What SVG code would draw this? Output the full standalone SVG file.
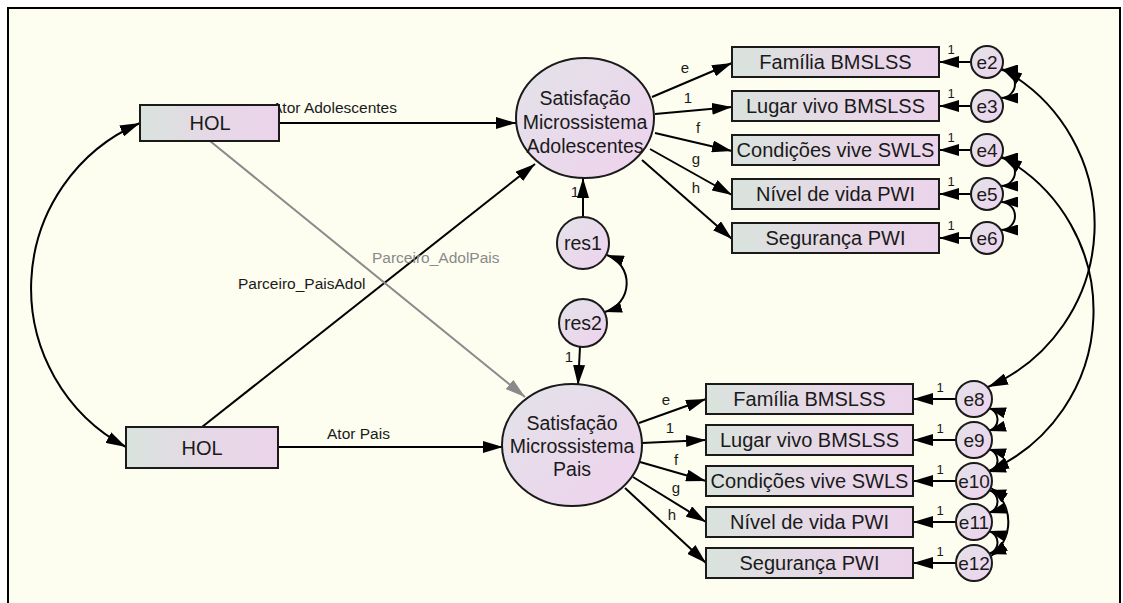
<svg xmlns="http://www.w3.org/2000/svg" width="1123" height="603" viewBox="0 0 1123 603">
  <defs>
    <linearGradient id="boxFill" x1="0" y1="0" x2="1" y2="0">
      <stop offset="0" stop-color="#D9E3DD"/>
      <stop offset="0.55" stop-color="#E6D8E6"/>
      <stop offset="1" stop-color="#EBD4EB"/>
    </linearGradient>
    <linearGradient id="circFill" x1="0" y1="0" x2="1" y2="1">
      <stop offset="0" stop-color="#E2E3E8"/>
      <stop offset="1" stop-color="#EFD2EE"/>
    </linearGradient>
    <marker id="ah" viewBox="0 0 20 12" refX="20" refY="6" markerWidth="20" markerHeight="12" markerUnits="userSpaceOnUse" orient="auto-start-reverse">
      <path d="M0,0 L20,6 L0,12 z" fill="#000"/>
    </marker>
    <marker id="ahGray" viewBox="0 0 20 12" refX="20" refY="6" markerWidth="20" markerHeight="12" markerUnits="userSpaceOnUse" orient="auto">
      <path d="M0,0 L20,6 L0,12 z" fill="#8A8A8A"/>
    </marker>
    <marker id="ahs" viewBox="0 0 17 11" refX="17" refY="5.5" markerWidth="17" markerHeight="11" markerUnits="userSpaceOnUse" orient="auto-start-reverse">
      <path d="M0,0 L17,5.5 L0,11 z" fill="#000"/>
    </marker>
  </defs>
  <style>
    .frame { fill: #FDFDF0; stroke: #000; stroke-width: 2; }
    .box { fill: url(#boxFill); stroke: #1A1A1A; stroke-width: 2; }
    .lat { fill: url(#circFill); stroke: #1A1A1A; stroke-width: 2; }
    .lbl { font-family: "Liberation Sans", Arial, sans-serif; font-size: 19.5px; fill: #1A1A1A; text-anchor: middle; }
    .ind { font-size: 20px; }
    .hol { font-size: 20px; }
    .err { font-size: 19px; }
    .sm { font-family: "Liberation Sans", Arial, sans-serif; font-size: 15.5px; fill: #1A1A1A; }
    .w { font-family: "Liberation Sans", Arial, sans-serif; font-size: 15px; fill: #1A1A1A; text-anchor: middle; }
    .one { font-family: "Liberation Sans", Arial, sans-serif; font-size: 13px; fill: #1A1A1A; text-anchor: middle; }
    .gray { fill: #8A8A8A; }
    .path { fill: none; stroke: #000; stroke-width: 2; marker-end: url(#ah); }
    .pathGray { fill: none; stroke: #8A8A8A; stroke-width: 2; marker-end: url(#ahGray); }
    .cov { fill: none; stroke: #000; stroke-width: 2; marker-start: url(#ah); marker-end: url(#ah); }
    .covs { fill: none; stroke: #000; stroke-width: 2; marker-start: url(#ahs); marker-end: url(#ahs); }
  </style>

  <!-- canvas frame -->
  <rect class="frame" x="8" y="8" width="1112" height="620"/>

  <!-- connectors -->
  <g id="connectors">
    <!-- exogenous covariance -->
    <path class="cov" d="M140,123 A180,180 0 0 0 126,447"/>
    <!-- actor / partner effects -->
    <line class="path" x1="279" y1="123" x2="516" y2="123"/>
    <line class="path" x1="278" y1="447" x2="503" y2="447"/>
    <line class="path" x1="202" y1="427" x2="535" y2="164"/>
    <line class="pathGray" x1="210" y1="141" x2="525" y2="397"/>
    <!-- residuals -->
    <line class="path" x1="583" y1="217" x2="583" y2="178"/>
    <line class="path" x1="580" y1="347" x2="578" y2="385"/>
    <path class="covs" d="M607,255 A30,30 0 0 1 605,312"/>
    <!-- loadings, adolescents -->
    <line class="path" x1="652" y1="97" x2="732" y2="63"/>
    <line class="path" x1="655" y1="114" x2="732" y2="107"/>
    <line class="path" x1="655" y1="133" x2="732" y2="151"/>
    <line class="path" x1="650" y1="149" x2="732" y2="195"/>
    <line class="path" x1="642" y1="160" x2="732" y2="239"/>
    <!-- loadings, parents -->
    <line class="path" x1="639" y1="423" x2="706" y2="399"/>
    <line class="path" x1="642" y1="443" x2="706" y2="440"/>
    <line class="path" x1="640" y1="462" x2="706" y2="481"/>
    <line class="path" x1="633" y1="477" x2="706" y2="522"/>
    <line class="path" x1="625" y1="488" x2="706" y2="563"/>
    <!-- error terms, adolescents -->
    <line class="path" x1="971" y1="62" x2="939" y2="62"/>
    <line class="path" x1="971" y1="106" x2="939" y2="106"/>
    <line class="path" x1="971" y1="150" x2="939" y2="150"/>
    <line class="path" x1="971" y1="194" x2="939" y2="194"/>
    <line class="path" x1="971" y1="238" x2="939" y2="238"/>
    <!-- error terms, parents -->
    <line class="path" x1="956" y1="399" x2="913" y2="399"/>
    <line class="path" x1="956" y1="440" x2="913" y2="440"/>
    <line class="path" x1="956" y1="481" x2="913" y2="481"/>
    <line class="path" x1="956" y1="522" x2="913" y2="522"/>
    <line class="path" x1="956" y1="563" x2="913" y2="563"/>
    <!-- error covariances -->
    <path class="covs" d="M1001,70 A14,14 0 0 1 1001,98"/>
    <path class="covs" d="M1001,158 A14,14 0 0 1 1001,186"/>
    <path class="covs" d="M1001,202 A14,14 0 0 1 1001,230"/>
    <path class="covs" d="M989,408 A12,12 0 0 1 989,431"/>
    <path class="covs" d="M989,449 A12,12 0 0 1 989,472"/>
    <path class="covs" d="M989,490 A12,12 0 0 1 989,513"/>
    <path class="covs" d="M989,531 A12,12 0 0 1 989,554"/>
    <path class="covs" d="M991,488 A42,42 0 0 1 991,556"/>
    <path class="cov" d="M1002,69 A177,177 0 0 1 988,387"/>
    <path class="cov" d="M1002,157 A175,175 0 0 1 989,471"/>
  </g>

  <!-- path labels -->
  <g id="path-labels">
    <text class="sm" x="272" y="113">Ator Adolescentes</text>
    <text class="sm" x="327" y="439">Ator Pais</text>
    <text class="sm" x="238" y="289">Parceiro_PaisAdol</text>
    <text class="sm gray" x="372" y="263">Parceiro_AdolPais</text>
    <text class="w" x="685" y="73">e</text>
    <text class="w" x="688" y="103">1</text>
    <text class="w" x="698" y="133">f</text>
    <text class="w" x="696" y="164">g</text>
    <text class="w" x="696" y="193">h</text>
    <text class="w" x="666" y="405">e</text>
    <text class="w" x="670" y="433">1</text>
    <text class="w" x="676" y="465">f</text>
    <text class="w" x="676" y="493">g</text>
    <text class="w" x="672" y="520">h</text>
    <text class="w" x="575" y="197">1</text>
    <text class="w" x="569" y="362">1</text>
    <text class="one" x="951" y="54">1</text>
    <text class="one" x="951" y="98">1</text>
    <text class="one" x="951" y="142">1</text>
    <text class="one" x="951" y="186">1</text>
    <text class="one" x="951" y="230">1</text>
    <text class="one" x="940" y="392">1</text>
    <text class="one" x="940" y="433">1</text>
    <text class="one" x="940" y="474">1</text>
    <text class="one" x="940" y="515">1</text>
    <text class="one" x="940" y="556">1</text>
  </g>

  <!-- observed exogenous -->
  <g id="hol-adol">
    <rect class="box" x="140" y="105" width="139" height="36"/>
    <text class="lbl hol" x="210" y="130">HOL</text>
  </g>
  <g id="hol-pais">
    <rect class="box" x="126" y="427" width="152" height="41"/>
    <text class="lbl hol" x="202" y="455">HOL</text>
  </g>

  <!-- latent variables -->
  <g id="sat-adol">
    <ellipse class="lat" cx="585" cy="118" rx="69" ry="60"/>
    <text class="lbl" x="585" y="105">Satisfação</text>
    <text class="lbl" x="585" y="129">Microssistema</text>
    <text class="lbl" x="585" y="153">Adolescentes</text>
  </g>
  <g id="sat-pais">
    <ellipse class="lat" cx="572" cy="445" rx="70" ry="61"/>
    <text class="lbl" x="572" y="430">Satisfação</text>
    <text class="lbl" x="572" y="453">Microssistema</text>
    <text class="lbl" x="572" y="476">Pais</text>
  </g>
  <g id="res1">
    <circle class="lat" cx="583" cy="243" r="26"/>
    <text class="lbl" x="583" y="250">res1</text>
  </g>
  <g id="res2">
    <circle class="lat" cx="583" cy="323" r="24"/>
    <text class="lbl" x="583" y="330">res2</text>
  </g>

  <!-- indicators, adolescents -->
  <g id="adol-familia"><rect class="box" x="732" y="47" width="207" height="30"/><text class="lbl ind" x="835.5" y="69">Família BMSLSS</text></g>
  <g id="adol-lugar"><rect class="box" x="732" y="91" width="207" height="30"/><text class="lbl ind" x="835.5" y="113">Lugar vivo BMSLSS</text></g>
  <g id="adol-condicoes"><rect class="box" x="732" y="135" width="207" height="30"/><text class="lbl ind" x="835.5" y="157">Condições vive SWLS</text></g>
  <g id="adol-nivel"><rect class="box" x="732" y="179" width="207" height="30"/><text class="lbl ind" x="835.5" y="201">Nível de vida PWI</text></g>
  <g id="adol-seguranca"><rect class="box" x="732" y="223" width="207" height="30"/><text class="lbl ind" x="835.5" y="245">Segurança PWI</text></g>

  <!-- indicators, parents -->
  <g id="pais-familia"><rect class="box" x="706" y="384" width="207" height="30"/><text class="lbl ind" x="809.5" y="406">Família BMSLSS</text></g>
  <g id="pais-lugar"><rect class="box" x="706" y="425" width="207" height="30"/><text class="lbl ind" x="809.5" y="447">Lugar vivo BMSLSS</text></g>
  <g id="pais-condicoes"><rect class="box" x="706" y="466" width="207" height="30"/><text class="lbl ind" x="809.5" y="488">Condições vive SWLS</text></g>
  <g id="pais-nivel"><rect class="box" x="706" y="507" width="207" height="30"/><text class="lbl ind" x="809.5" y="529">Nível de vida PWI</text></g>
  <g id="pais-seguranca"><rect class="box" x="706" y="548" width="207" height="30"/><text class="lbl ind" x="809.5" y="570">Segurança PWI</text></g>

  <!-- error terms -->
  <g id="e2"><circle class="lat" cx="987" cy="62" r="16"/><text class="lbl err" x="987" y="69">e2</text></g>
  <g id="e3"><circle class="lat" cx="987" cy="106" r="16"/><text class="lbl err" x="987" y="113">e3</text></g>
  <g id="e4"><circle class="lat" cx="987" cy="150" r="16"/><text class="lbl err" x="987" y="157">e4</text></g>
  <g id="e5"><circle class="lat" cx="987" cy="194" r="16"/><text class="lbl err" x="987" y="201">e5</text></g>
  <g id="e6"><circle class="lat" cx="987" cy="238" r="16"/><text class="lbl err" x="987" y="245">e6</text></g>
  <g id="e8"><circle class="lat" cx="974" cy="399" r="18"/><text class="lbl err" x="974" y="406">e8</text></g>
  <g id="e9"><circle class="lat" cx="974" cy="440" r="18"/><text class="lbl err" x="974" y="447">e9</text></g>
  <g id="e10"><circle class="lat" cx="974" cy="481" r="18"/><text class="lbl err" x="974" y="488">e10</text></g>
  <g id="e11"><circle class="lat" cx="974" cy="522" r="18"/><text class="lbl err" x="974" y="529">e11</text></g>
  <g id="e12"><circle class="lat" cx="974" cy="563" r="18"/><text class="lbl err" x="974" y="570">e12</text></g>
</svg>
